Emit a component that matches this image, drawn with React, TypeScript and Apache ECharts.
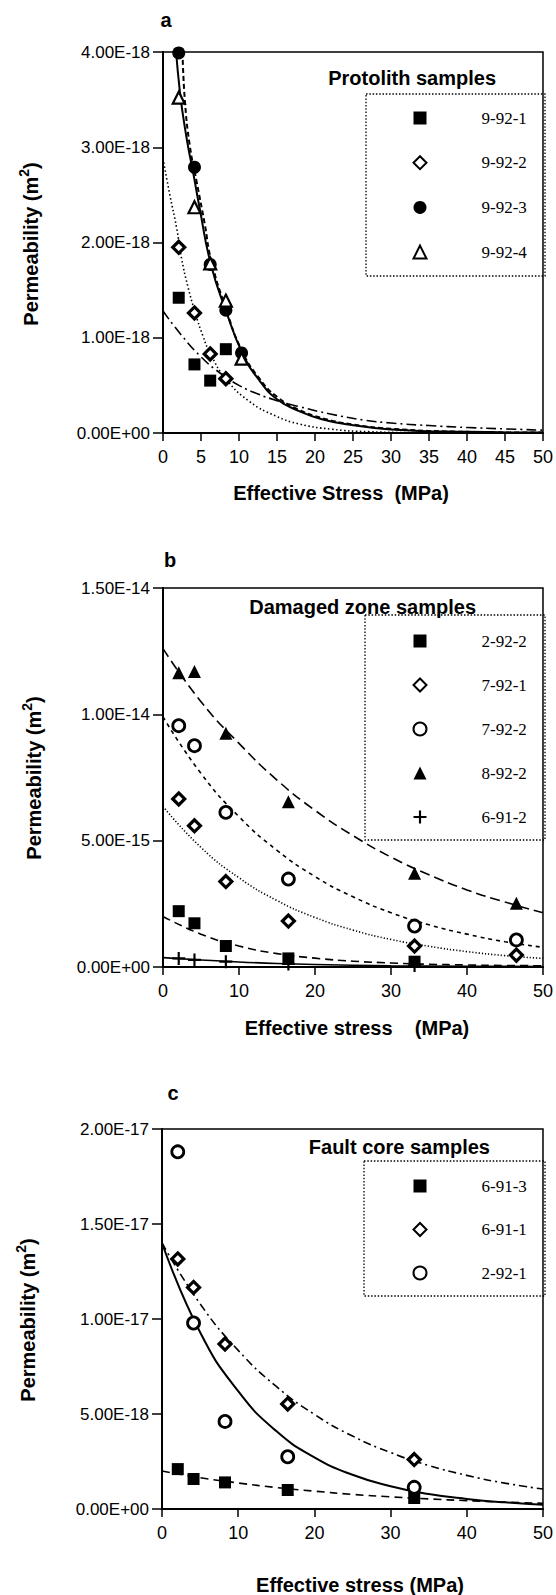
import React, { useEffect, useRef } from 'react';
import * as echarts from 'echarts';

// ---------- data ----------
// x values: effective stress (MPa)
const stressA = [2.07, 4.14, 6.21, 8.27, 10.34];
const stressB = [2.07, 4.14, 8.27, 16.5, 33.1, 46.5];
const stressC = [2.07, 4.14, 8.27, 16.5, 33.1];

// panel a: protolith samples (m^2)
const a_9_92_1 = [1.42e-18, 7.2e-19, 5.5e-19, 8.8e-19];
const a_9_92_2 = [1.95e-18, 1.26e-18, 8.3e-19, 5.7e-19];
const a_9_92_3 = [3.99e-18, 2.79e-18, 1.77e-18, 1.29e-18, 8.4e-19];
const a_9_92_4 = [3.52e-18, 2.37e-18, 1.78e-18, 1.39e-18, 7.8e-19];

// panel a fitted curves [stress, permeability]
const aFit_9_92_1 = [[0, 1.28e-18], [2.5, 1.02e-18], [5, 8.0e-19], [7.5, 6.3e-19], [10, 5.0e-19], [12.5, 4.1e-19], [15, 3.4e-19], [18, 2.75e-19], [22, 2.0e-19], [26.5, 1.35e-19], [30, 1.05e-19], [35, 7.8e-20], [40, 5.8e-20], [45, 4.3e-20], [50, 3.0e-20]];
const aFit_9_92_2 = [[0, 2.88e-18], [0.9, 2.5e-18], [1.8, 2.15e-18], [2.45, 1.83e-18], [3.3, 1.53e-18], [4.25, 1.26e-18], [5.25, 1.02e-18], [6.25, 8.3e-19], [8.3, 5.65e-19], [11.4, 3.3e-19], [14.8, 1.8e-19], [17.9, 9.5e-20], [22.2, 4.0e-20], [27, 1.4e-20], [35, 3.0e-21], [50, 5.0e-22]];
const aFit_9_92_3 = [[1.5, 4.25e-18], [2.2, 3.6e-18], [3.1, 3.1e-18], [4.0, 2.72e-18], [4.8, 2.37e-18], [6.3, 1.77e-18], [8.3, 1.28e-18], [10.5, 8.3e-19], [12.7, 5.5e-19], [15, 3.55e-19], [17.9, 2.3e-19], [20.9, 1.45e-19], [24.4, 9.0e-20], [30, 3.8e-20], [40, 1.2e-20], [50, 5.0e-21]];
const aFit_9_92_4 = [[2.57, 4.0e-18], [2.87, 3.5e-18], [3.52, 3.02e-18], [4.4, 2.65e-18], [5.48, 2.2e-18], [6.35, 1.81e-18], [8.3, 1.3e-18], [10.4, 8.6e-19], [12.7, 5.7e-19], [15, 3.8e-19], [18, 2.4e-19], [21, 1.55e-19], [25, 9.0e-20], [30, 4.5e-20], [40, 1.2e-20], [50, 4.0e-21]];

// panel b: damaged zone samples (m^2)
const b_2_92_2 = [2.21e-15, 1.73e-15, 8.3e-16, 3.4e-16, 2.1e-16];
const b_7_92_1 = [6.65e-15, 5.59e-15, 3.38e-15, 1.82e-15, 8.3e-16, 4.7e-16];
const b_7_92_2 = [9.55e-15, 8.76e-15, 6.12e-15, 3.48e-15, 1.62e-15, 1.07e-15];
const b_8_92_2 = [1.165e-14, 1.17e-14, 9.25e-15, 6.54e-15, 3.71e-15, 2.52e-15];
const b_6_91_2 = [3.4e-16, 2.8e-16, 2.1e-16, 1.2e-16, 6.0e-17];

const bFit_8_92_2 = [[0, 1.26e-14], [5, 1.05e-14], [10, 8.85e-15], [15, 7.4e-15], [20, 6.2e-15], [25, 5.2e-15], [30, 4.35e-15], [35, 3.65e-15], [40, 3.05e-15], [45, 2.57e-15], [50, 2.15e-15]];
const bFit_7_92_2 = [[0, 9.9e-15], [5, 7.66e-15], [10, 5.95e-15], [15, 4.62e-15], [20, 3.58e-15], [25, 2.78e-15], [30, 2.15e-15], [35, 1.67e-15], [40, 1.3e-15], [45, 1.0e-15], [50, 7.8e-16]];
const bFit_7_92_1 = [[0, 6.35e-15], [5, 4.73e-15], [10, 3.53e-15], [15, 2.63e-15], [20, 1.96e-15], [25, 1.46e-15], [30, 1.09e-15], [35, 8.2e-16], [40, 6.1e-16], [45, 4.5e-16], [50, 3.4e-16]];
const bFit_2_92_2 = [[0, 2.0e-15], [5, 1.3e-15], [10, 8.3e-16], [15, 5.3e-16], [20, 3.5e-16], [25, 2.3e-16], [30, 1.6e-16], [35, 1.1e-16], [40, 8.0e-17], [45, 6.0e-17], [50, 5.0e-17]];
const bFit_6_91_2 = [[0, 3.7e-16], [5, 2.8e-16], [10, 2.0e-16], [15, 1.4e-16], [20, 1.0e-16], [30, 5.0e-17], [40, 3.0e-17], [50, 2.0e-17]];

// panel c: fault core samples (m^2)
const c_6_91_3 = [2.1e-18, 1.58e-18, 1.4e-18, 1.0e-18, 5.8e-19];
const c_6_91_1 = [1.316e-17, 1.166e-17, 8.68e-18, 5.53e-18, 2.6e-18];
const c_2_92_1 = [1.88e-17, 9.79e-18, 4.61e-18, 2.75e-18, 1.14e-18];

const cFit_2_92_1 = [[0, 1.4e-17], [5, 9.3e-18], [10, 6.2e-18], [15, 4.1e-18], [20, 2.72e-18], [25, 1.8e-18], [30, 1.2e-18], [35, 7.9e-19], [40, 5.3e-19], [45, 3.5e-19], [50, 2.3e-19]];
const cFit_6_91_1 = [[0, 1.4e-17], [5, 1.08e-17], [10, 8.35e-18], [15, 6.45e-18], [20, 4.98e-18], [25, 3.84e-18], [30, 2.97e-18], [35, 2.29e-18], [40, 1.77e-18], [45, 1.36e-18], [50, 1.05e-18]];
const cFit_6_91_3 = [[0, 2.0e-18], [5, 1.65e-18], [10, 1.37e-18], [15, 1.13e-18], [20, 9.4e-19], [25, 7.7e-19], [30, 6.4e-19], [35, 5.3e-19], [40, 4.4e-19], [45, 3.6e-19], [50, 3.0e-19]];

// axes
const yMax = [4e-18, 1.5e-14, 2e-17];
const yInterval = [1e-18, 5e-15, 5e-18];
const xInterval = [5, 10, 10];

// legend names
const legendA = ['9-92-1', '9-92-2', '9-92-3', '9-92-4'];
const legendB = ['2-92-2', '7-92-1', '7-92-2', '8-92-2', '6-91-2'];
const legendC = ['6-91-3', '6-91-1', '2-92-1'];

// ---------- styling ----------
const SANS = '"Liberation Sans", Arial, Helvetica, sans-serif';
const SERIF = '"Liberation Serif", "Times New Roman", serif';
const PLUS = 'path://M5,0H7V5H12V7H7V12H5V7H0V5H5Z';

const pair = (xs: number[], ys: number[]) => ys.map((y, i) => [xs[i], y]);

const fmtExp = (v: number) => {
  if (v === 0) return '0.00E+00';
  const [m, e] = v.toExponential(2).split('e');
  const ex = parseInt(e, 10);
  return m + 'E' + (ex < 0 ? '-' : '+') + String(Math.abs(ex)).padStart(2, '0');
};

type Mk = 'fillRect' | 'openDiamond' | 'fillCircle' | 'openTriangle' | 'openCircle' | 'fillTriangle' | 'plus';

const markerStyle = (m: Mk) => {
  switch (m) {
    case 'fillRect': return { symbol: 'rect', symbolSize: 12, itemStyle: { color: '#000', opacity: 1 } };
    case 'openDiamond': return { symbol: 'diamond', symbolSize: 12, itemStyle: { color: '#fff', borderColor: '#000', borderWidth: 3.2, opacity: 1 } };
    case 'fillCircle': return { symbol: 'circle', symbolSize: 13, itemStyle: { color: '#000', opacity: 1 } };
    case 'openTriangle': return { symbol: 'triangle', symbolSize: 12, itemStyle: { color: '#fff', borderColor: '#000', borderWidth: 2.2, opacity: 1 } };
    case 'openCircle': return { symbol: 'circle', symbolSize: 12, itemStyle: { color: '#fff', borderColor: '#000', borderWidth: 2.8, opacity: 1 } };
    case 'fillTriangle': return { symbol: 'triangle', symbolSize: 13, itemStyle: { color: '#000', opacity: 1 } };
    case 'plus': return { symbol: PLUS, symbolSize: 13, itemStyle: { color: '#000', opacity: 1 } };
  }
};

const scatter = (name: string, idx: number, xs: number[], ys: number[], m: Mk) => ({
  type: 'scatter',
  name,
  xAxisIndex: idx,
  yAxisIndex: idx,
  data: pair(xs, ys),
  z: 5,
  silent: true,
  ...markerStyle(m),
});

const fit = (idx: number, data: number[][], dash: any, width = 1.6) => ({
  type: 'line',
  xAxisIndex: idx,
  yAxisIndex: idx,
  data,
  smooth: true,
  showSymbol: false,
  symbol: 'none',
  silent: true,
  z: 3,
  lineStyle: { color: '#000', width, type: dash, opacity: 1 },
});

const grids = [
  { left: 163, top: 52, width: 382, height: 381 },
  { left: 163, top: 588, width: 382, height: 379 },
  { left: 162, top: 1129, width: 383, height: 380 },
].map((g) => ({ ...g, show: true, borderColor: '#000', borderWidth: 1.5, backgroundColor: 'transparent' }));

const boldText = (text: string, x: number, y: number, size = 20, align = 'center') => ({
  type: 'text',
  x,
  y,
  silent: true,
  style: {
    text,
    fontSize: size,
    fontWeight: 'bold',
    fontFamily: SANS,
    fill: '#000',
    align,
    verticalAlign: 'middle',
    textAlign: align,
    textVerticalAlign: 'middle',
  },
});

const yTitle = (x: number, y: number) => ({
  type: 'text',
  x,
  y,
  rotation: Math.PI / 2,
  silent: true,
  style: {
    text: 'Permeability (m{s|2})',
    fontSize: 20,
    fontWeight: 'bold',
    fontFamily: SANS,
    fill: '#000',
    align: 'center',
    verticalAlign: 'middle',
    textAlign: 'center',
    textVerticalAlign: 'middle',
    rich: {
      s: { fontSize: 14, fontWeight: 'bold', fontFamily: SANS, fill: '#000', color: '#000', padding: [0, 0, 14, 0] },
    },
  },
});

const dottedBox = (x: number, y: number, w: number, h: number) => ({
  type: 'rect',
  silent: true,
  shape: { x, y, width: w, height: h },
  style: { fill: 'none', stroke: '#000', lineWidth: 1.3, lineDash: [1.5, 1.8] },
});

const legend = (data: string[], top: number, gap: number) => ({
  data,
  orient: 'vertical',
  left: 412.5,
  top,
  padding: 0,
  itemWidth: 13,
  itemHeight: 13,
  itemGap: gap,
  selectedMode: false,
  formatter: (n: string) => `{t|${n}}`,
  textStyle: {
    rich: { t: { fontFamily: SERIF, fontSize: 17, lineHeight: 17, color: '#000', padding: [0, 0, 0, 50] } },
  },
});

const App: React.FC = () => {
  const ref = useRef<HTMLDivElement>(null);

  useEffect(() => {
    if (!ref.current) return;
    const chart = echarts.init(ref.current, undefined, { renderer: 'svg' });

    const xAxis = [0, 1, 2].map((i) => ({
      type: 'value',
      gridIndex: i,
      min: 0,
      max: 50,
      interval: xInterval[i],
      axisLine: { show: true, lineStyle: { color: '#000', width: 2 } },
      axisTick: { show: true, length: 8, lineStyle: { color: '#000', width: 1.5 } },
      axisLabel: { color: '#000', fontSize: 18, fontFamily: SANS, margin: 15 },
      splitLine: { show: false },
    }));

    const yAxis = [0, 1, 2].map((i) => ({
      type: 'value',
      gridIndex: i,
      min: 0,
      max: yMax[i],
      interval: yInterval[i],
      axisLine: { show: true, lineStyle: { color: '#000', width: 2 } },
      axisTick: { show: true, length: 10, lineStyle: { color: '#000', width: 1.5 } },
      axisLabel: { color: '#000', fontSize: 17, fontFamily: SANS, margin: 13, formatter: fmtExp },
      splitLine: { show: false },
    }));

    const series = [
      // panel a
      fit(0, aFit_9_92_1, [10, 4, 2, 4], 1.6),
      fit(0, aFit_9_92_2, [1.5, 2.5], 1.6),
      fit(0, aFit_9_92_3, 'solid', 2),
      fit(0, aFit_9_92_4, [5, 3], 2),
      scatter('9-92-1', 0, stressA, a_9_92_1, 'fillRect'),
      scatter('9-92-2', 0, stressA, a_9_92_2, 'openDiamond'),
      scatter('9-92-3', 0, stressA, a_9_92_3, 'fillCircle'),
      scatter('9-92-4', 0, stressA, a_9_92_4, 'openTriangle'),
      // panel b
      fit(1, bFit_8_92_2, [10, 5], 1.6),
      fit(1, bFit_7_92_2, [4, 4], 1.6),
      fit(1, bFit_7_92_1, [1.2, 2], 1.6),
      fit(1, bFit_2_92_2, [8, 5], 1.6),
      fit(1, bFit_6_91_2, 'solid', 1.6),
      scatter('2-92-2', 1, stressB, b_2_92_2, 'fillRect'),
      scatter('7-92-1', 1, stressB, b_7_92_1, 'openDiamond'),
      scatter('7-92-2', 1, stressB, b_7_92_2, 'openCircle'),
      scatter('8-92-2', 1, stressB, b_8_92_2, 'fillTriangle'),
      scatter('6-91-2', 1, stressB, b_6_91_2, 'plus'),
      // panel c
      fit(2, cFit_2_92_1, 'solid', 2),
      fit(2, cFit_6_91_1, [8, 4, 2, 4], 1.6),
      fit(2, cFit_6_91_3, [8, 5], 1.6),
      scatter('6-91-3', 2, stressC, c_6_91_3, 'fillRect'),
      scatter('6-91-1', 2, stressC, c_6_91_1, 'openDiamond'),
      scatter('2-92-1', 2, stressC, c_2_92_1, 'openCircle'),
    ];

    const graphic = [
      dottedBox(366, 94, 179, 182),
      dottedBox(365, 615, 180, 225),
      dottedBox(364, 1161, 181, 135),
      boldText('a', 166, 20),
      boldText('b', 170, 560),
      boldText('c', 173, 1093),
      boldText('Protolith samples', 496, 78, 20, 'right'),
      boldText('Damaged zone samples', 476, 607, 20, 'right'),
      boldText('Fault core samples', 490, 1147, 20, 'right'),
      boldText('Effective Stress  (MPa)', 341, 493),
      boldText('Effective stress    (MPa)', 357, 1028),
      boldText('Effective stress (MPa)', 360, 1585),
      yTitle(31, 244),
      yTitle(34, 778),
      yTitle(28, 1320),
    ];

    chart.setOption({
      animation: false,
      backgroundColor: '#fff',
      grid: grids,
      xAxis,
      yAxis,
      legend: [legend(legendA, 109.5, 27.7), legend(legendB, 632.5, 27), legend(legendC, 1177.5, 26.5)],
      series,
      graphic,
    });

    return () => chart.dispose();
  }, []);

  return <div ref={ref} style={{ position: 'absolute', left: 0, top: 0, width: 556, height: 1595 }} />;
};

export default App;
